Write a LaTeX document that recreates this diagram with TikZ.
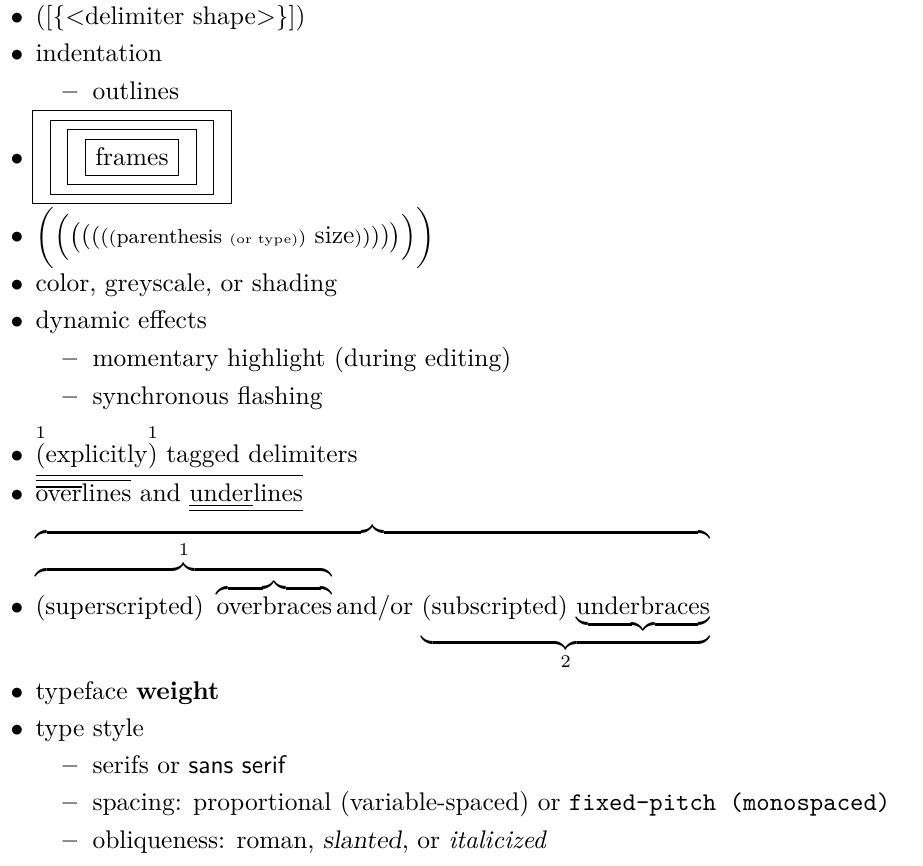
\documentclass[tikz,border=0pt]{standalone}
\usepackage{amsmath}
\usepackage{fontspec}
\usetikzlibrary{fit}

\tikzset{
    entry/.style={anchor=base west, inner sep=0pt},
    dot/.style={anchor=base, inner sep=0pt},
    framebox/.style={draw, inner xsep=6.7pt, inner ysep=3.5pt}
}

\begin{document}
\begin{tikzpicture}[x=0.3922pt, y=-0.3922pt]
    \useasboundingbox (0,0) rectangle (923,866);

    \foreach \y [count=\i] in {25,62,166,244,292,329,463,502,615,700,737}
        \node[dot] (bul\i) at (17,\y) {$\bullet$};
    \foreach \y [count=\i] in {100,367,405,774,811,849}
        \node[dot] (en\i) at (70,\y) {\bfseries\textendash};

    \node[entry] (delim) at (35,25) {([\{<delimiter shape>\}])};
    \node[entry] (indent) at (35,62) {indentation};
    \node[entry] (outl) at (92,100) {outlines};

    \node[draw, anchor=base, inner xsep=4pt, inner ysep=3.5pt] (fr1) at (132,166) {frames};
    \node[framebox, fit=(fr1)] (fr2) {};
    \node[framebox, fit=(fr2)] (fr3) {};
    \node[framebox, fit=(fr3)] (fr4) {};

    \node[entry] (paren) at (35,244) {$\bigg(\Big(\big(($\small(\footnotesize(\scriptsize(\footnotesize parenthesis \tiny(or type)\scriptsize)\normalsize{} size\scriptsize)\footnotesize)\small)\normalsize)$\big)\Big)\bigg)$};

    \node[entry] (color) at (35,292) {color, greyscale, or shading};
    \node[entry] (dyn) at (35,329) {dynamic effects};
    \node[entry] (moment) at (92,367) {momentary highlight (during editing)};
    \node[entry] (sync) at (92,405) {synchronous flashing};

    \node[entry] (tagged) at (35,463) {$\overset{1}{(}$explicitly$\overset{1}{)}$ tagged delimiters};
    \node[entry] (lines) at (35,502) {$\overline{\overline{\overline{\text{over}}\text{lines}}\text{ and }\underline{\underline{\text{under}}\text{lines}}}$};
    \node[entry] (braces) at (35,615) {$\overbrace{\overbrace{\text{(superscripted) }\overbrace{\text{overbraces}}}^{1}\text{and/or}\,\underbrace{\text{(subscripted)}\,\underbrace{\text{underbraces}}}_{2}}$};

    \node[entry] (weight) at (35,700) {typeface \textbf{weight}};
    \node[entry] (style) at (35,737) {type style};
    \node[entry] (serif) at (92,774) {serifs or \textsf{sans serif}};
    \node[entry] (spacing) at (92,811) {spacing: proportional (variable-spaced) or \texttt{fixed-pitch (monospaced)}};
    \node[entry] (oblique) at (92,849) {obliqueness: roman, \textsl{slanted}, or \textit{italicized}};
\end{tikzpicture}
\end{document}
